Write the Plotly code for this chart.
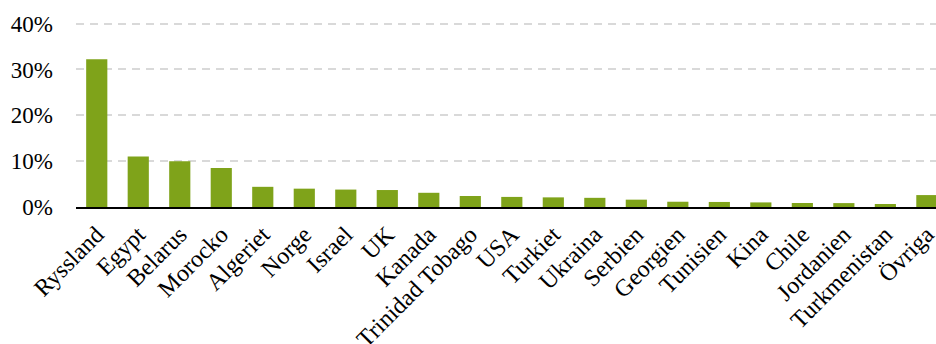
import plotly.graph_objects as go

# Import shares by country of origin
countries = ["Ryssland", "Egypt", "Belarus", "Morocko", "Algeriet", "Norge", "Israel", "UK",
             "Kanada", "Trinidad Tobago", "USA", "Turkiet", "Ukraina", "Serbien", "Georgien",
             "Tunisien", "Kina", "Chile", "Jordanien", "Turkmenistan", "Övriga"]
shares = [32.2, 11.0, 10.0, 8.5, 4.4, 4.0, 3.8, 3.7, 3.1, 2.4, 2.2, 2.1, 2.0, 1.6, 1.15,
          1.1, 1.0, 0.87, 0.85, 0.65, 2.6]
y_ticks = [0, 10, 20, 30, 40]
y_tick_labels = ["0%", "10%", "20%", "30%", "40%"]

font = dict(family="Liberation Serif, Times New Roman, serif", size=23, color="#000000")
xfont = dict(font, size=24)

fig = go.Figure(go.Bar(
    x=countries,
    y=shares,
    marker=dict(color="#7fa31a", line=dict(width=0)),
))

fig.update_layout(
    width=936, height=344,
    margin=dict(l=76, r=0, t=19, b=137),
    plot_bgcolor="white", paper_bgcolor="white",
    bargap=0.49,
    showlegend=False,
    font=font,
)
fig.update_xaxes(
    type="category",
    range=[-0.5, 20.22],
    tickangle=-45,
    showline=True, linecolor="#000000", linewidth=2,
    showgrid=False, ticks="",
    tickfont=xfont,
    ticklabelstandoff=2,
    automargin=False,
)
fig.update_yaxes(
    range=[0, 41],
    tickvals=y_ticks, ticktext=y_tick_labels,
    showgrid=True, gridcolor="#d9d9d9", gridwidth=1.5, griddash="8px,6px",
    zeroline=False, showline=False, ticks="",
    tickfont=font,
    ticklabelstandoff=22,
    automargin=False,
)

fig.write_html("out.html")
